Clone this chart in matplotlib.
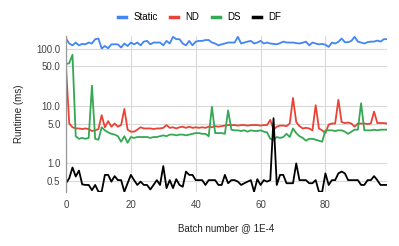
import numpy as np
import matplotlib.pyplot as plt

plt.rcParams['font.family'] = ['Liberation Sans', 'DejaVu Sans']

# runtime per batch (ms)
static = [154, 126, 117, 131, 117, 124, 122, 131, 126, 150, 154, 103, 114, 104, 122, 122, 122, 107, 126, 114,
          131, 122, 131, 117, 136, 140, 122, 131, 131, 131, 117, 140, 126, 165, 150, 150, 126, 117, 140, 117,
          136, 140, 140, 145, 145, 131, 126, 117, 122, 126, 131, 131, 131, 165, 126, 131, 136, 140, 126, 131,
          140, 126, 131, 126, 124, 122, 128, 136, 131, 131, 131, 128, 126, 130, 136, 117, 131, 126, 122, 124,
          120, 110, 131, 126, 135, 154, 133, 133, 140, 165, 136, 131, 126, 133, 136, 136, 142, 136, 150, 150]
nd = [50, 5.0, 4.3, 4.1, 4.1, 4.0, 4.1, 4.0, 3.7, 3.8,
      4.0, 7.0, 4.3, 5.5, 4.4, 5.0, 4.4, 4.7, 9.0, 3.9,
      3.6, 3.6, 3.9, 4.3, 4.1, 4.1, 4.1, 4.0, 4.1, 4.1,
      4.2, 4.7, 4.2, 4.3, 4.1, 4.3, 4.4, 4.2, 4.4, 4.2,
      4.3, 4.2, 4.3, 4.2, 4.4, 4.3, 4.5, 4.4, 4.5, 4.6,
      4.7, 4.7, 4.7, 4.6, 4.7, 4.7, 4.6, 4.7, 4.7, 4.7,
      4.6, 4.7, 4.7, 5.8, 3.9, 4.4, 4.6, 4.6, 4.5, 5.0,
      14.0, 5.3, 4.5, 4.1, 4.2, 4.1, 3.8, 10.5, 4.1, 3.8,
      3.4, 4.8, 5.0, 5.0, 13.0, 5.3, 5.1, 5.2, 5.0, 4.4,
      5.0, 5.0, 5.0, 4.9, 5.0, 8.1, 5.1, 5.1, 5.1, 5.0]
ds = [55, 57, 80, 3.0, 2.7, 2.8, 2.7, 2.8, 23, 2.7,
      2.6, 4.3, 3.8, 3.5, 3.3, 3.2, 3.0, 2.4, 3.0, 2.3,
      2.9, 2.8, 2.9, 2.9, 2.9, 2.9, 2.8, 2.9, 2.9, 3.0,
      3.1, 3.0, 3.2, 3.2, 3.1, 3.2, 3.2, 3.1, 3.2, 3.3,
      3.4, 3.4, 3.3, 3.3, 3.0, 9.8, 3.4, 3.4, 3.4, 3.3,
      8.5, 3.9, 3.8, 3.8, 3.7, 3.8, 3.6, 3.8, 3.7, 3.7,
      3.8, 3.6, 3.5, 2.7, 2.6, 2.9, 2.8, 2.9, 3.3, 2.9,
      4.1, 3.4, 3.0, 2.8, 2.5, 2.7, 2.7, 2.6, 2.5, 2.4,
      3.8, 3.8, 3.8, 3.7, 3.8, 3.8, 3.6, 3.3, 3.6, 3.9,
      3.9, 11.3, 3.8, 3.8, 3.8, 3.9, 3.8, 3.9, 3.9, 3.9]
df = [0.45, 0.55, 0.85, 0.59, 0.75, 0.43, 0.42, 0.42, 0.34, 0.42,
      0.32, 0.32, 0.63, 0.63, 0.48, 0.60, 0.51, 0.51, 0.32, 0.45,
      0.63, 0.51, 0.42, 0.48, 0.42, 0.42, 0.35, 0.42, 0.51, 0.42,
      0.90, 0.37, 0.51, 0.37, 0.53, 0.42, 0.39, 0.72, 0.63, 0.63,
      0.51, 0.51, 0.51, 0.42, 0.51, 0.51, 0.51, 0.42, 0.42, 0.63,
      0.45, 0.51, 0.51, 0.48, 0.42, 0.45, 0.48, 0.51, 0.32, 0.53,
      0.42, 0.51, 0.48, 0.51, 6.2, 0.42, 0.63, 0.63, 0.45, 0.45,
      0.45, 1.0, 0.51, 0.51, 0.51, 0.45, 0.45, 0.51, 0.32, 0.32,
      0.67, 0.42, 0.51, 0.51, 0.67, 0.72, 0.67, 0.51, 0.51, 0.51,
      0.51, 0.42, 0.42, 0.51, 0.51, 0.60, 0.51, 0.42, 0.42, 0.42]
batch = np.arange(len(static))

yticks = [0.5, 1.0, 5.0, 10.0, 50.0, 100.0]
xticks = [0, 20, 40, 60, 80]

fig = plt.figure(figsize=(3.99, 2.46), dpi=100)
ax = fig.add_axes([0.1654, 0.2195, 0.8046, 0.635])

ax.plot(batch, static, color='#4285f4', lw=1.3, label='Static')
ax.plot(batch, nd, color='#ea4335', lw=1.3, label='ND')
ax.plot(batch, ds, color='#34a853', lw=1.3, label='DS')
ax.plot(batch, df, color='black', lw=1.3, label='DF')

ax.set_yscale('log')
ax.set_ylim(0.316, 172)
ax.set_xlim(0, 99)
ax.set_yticks(yticks)
ax.set_yticklabels(['%.1f' % v for v in yticks])
ax.minorticks_off()
ax.set_xticks(xticks)
ax.tick_params(length=0, labelsize=7, colors='#444444')
ax.tick_params(axis='y', pad=4)
ax.tick_params(axis='x', pad=6)
ax.grid(True, color='#d9d9d9', lw=0.8)
ax.set_axisbelow(True)
for s in ['top', 'right', 'bottom']:
    ax.spines[s].set_visible(False)
ax.spines['left'].set_color('#999999')
ax.spines['left'].set_linewidth(0.9)

ax.set_ylabel('Runtime (ms)', fontsize=7, color='#222222', labelpad=9)
ax.set_xlabel('Batch number @ 1E-4', fontsize=7, color='#222222', labelpad=9)

fig.legend(loc='center', bbox_to_anchor=(0.5, 0.93), ncol=4, frameon=False, fontsize=7,
           handlelength=0.85, handletextpad=0.7, columnspacing=1.3)
for h in fig.legends[0].get_lines():
    h.set_linewidth(2.5)

fig.savefig('out.png', dpi=100)
